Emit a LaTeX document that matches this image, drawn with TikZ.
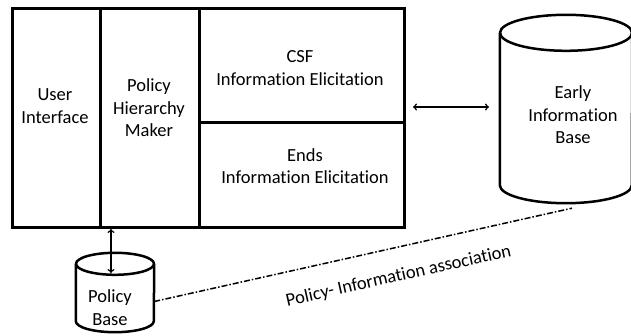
\documentclass[tikz,border=0pt]{standalone}
\usepackage{fontspec}
\setmainfont{Carlito}[Ligatures=NoCommon]
\tikzstyle{part}=[rectangle,draw=black,line width=3pt,inner sep=0pt,anchor=north west]
\tikzstyle{txt}=[align=center,inner sep=0pt,font=\fontsize{18.5}{22.5}\selectfont]
\tikzstyle{dbase}=[rectangle,inner sep=0pt]
\tikzstyle{dbline}=[draw=black,line width=2.5pt,line join=round]
\tikzstyle{link}=[line width=1.5pt,<->,>=to]
\tikzstyle{assoc}=[line width=1.5pt,dash pattern=on 6pt off 2pt on 1.5pt off 2pt]

\begin{document}
\begin{tikzpicture}[x=1pt,y=-1pt]
    \useasboundingbox (0,0) rectangle (631,336);
    \node [style=part,minimum width=88pt,minimum height=219pt] (ui) at (11,7) {};
    \node [style=part,minimum width=99pt,minimum height=219pt] (phm) at (99,7) {};
    \node [style=part,minimum width=205pt,minimum height=114pt] (csf) at (198,7) {};
    \node [style=part,minimum width=205pt,minimum height=105pt] (ends) at (198,121) {};
    \node [style=txt] (uit) at (55,106) {User\\Interface};
    \node [style=txt] (phmt) at (149,108) {Policy\\Hierarchy\\Maker};
    \node [style=txt] (csft) at (300,68) {CSF\\Information Elicitation};
    \node [style=txt] (endst) at (305,166) {Ends\\Information Elicitation};
    % early information base
    \node [style=dbase,minimum width=132pt,minimum height=188pt] (eib) at (566,109) {};
    \draw [style=dbline] ([yshift=-18pt]eib.north west) -- ([yshift=18pt]eib.south west)
      arc [start angle=180,end angle=360,x radius=66pt,y radius=18pt]
      -- ([yshift=-18pt]eib.north east);
    \draw [style=dbline] ([yshift=-18pt]eib.north) ellipse [x radius=66pt,y radius=18pt];
    \node [style=txt] (eibt) at (573,115) {Early\\Information\\Base};
    % policy base
    \node [style=dbase,minimum width=78pt,minimum height=79pt] (pb) at (115,292.5) {};
    \draw [style=dbline] ([yshift=-11pt]pb.north west) -- ([yshift=11pt]pb.south west)
      arc [start angle=180,end angle=360,x radius=39pt,y radius=11pt]
      -- ([yshift=-11pt]pb.north east);
    \draw [style=dbline] ([yshift=-11pt]pb.north) ellipse [x radius=39pt,y radius=11pt];
    \node [style=txt] (pbt) at (110,307.5) {Policy\\Base};
    \coordinate (al) at (413,107);
    \coordinate (ar) at (489,107);
    \coordinate (pbtop) at (111,273);
    \draw [style=link] (al) to (ar);
    \draw [style=link] (pbtop |- phm.south) to (pbtop);
    \draw [style=assoc] ([yshift=-9pt]pb.east) to
      node [style=txt,sloped,below=20pt,pos=0.57] (assoct) {Policy- Information association}
      ([xshift=6pt,yshift=-5pt]eib.south);
\end{tikzpicture}
\end{document}
